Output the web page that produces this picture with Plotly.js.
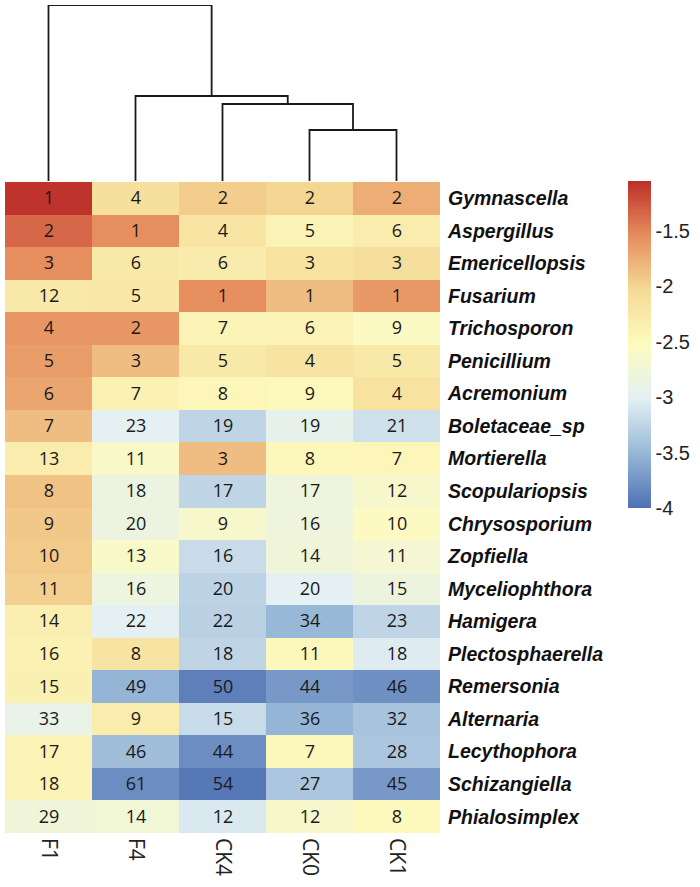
<!DOCTYPE html>
<html><head><meta charset="utf-8">
<script src="https://cdn.plot.ly/plotly-3.0.1.min.js"></script>
<style>body{margin:0;background:#fff}#chart{width:700px;height:887px}</style>
</head><body><div id="chart"></div>
<script>
// Samples (columns, in dendrogram order)
const samples = ["F1", "F4", "CK4", "CK0", "CK1"];
// Genera (rows, top to bottom)
const genera = ["Gymnascella","Aspergillus","Emericellopsis","Fusarium","Trichosporon","Penicillium",
  "Acremonium","Boletaceae_sp","Mortierella","Scopulariopsis","Chrysosporium","Zopfiella",
  "Myceliophthora","Hamigera","Plectosphaerella","Remersonia","Alternaria","Lecythophora",
  "Schizangiella","Phialosimplex"];
// log10 relative abundance (colour)
const values = [
  [-1.07, -2.12, -1.95, -2.00, -1.75],
  [-1.35, -1.55, -2.20, -2.40, -2.30],
  [-1.55, -2.25, -2.28, -2.15, -2.10],
  [-2.25, -2.22, -1.55, -1.85, -1.62],
  [-1.60, -1.60, -2.42, -2.40, -2.55],
  [-1.65, -1.85, -2.25, -2.18, -2.25],
  [-1.70, -2.38, -2.45, -2.50, -2.15],
  [-1.85, -3.00, -3.25, -2.95, -3.15],
  [-2.30, -2.60, -1.85, -2.48, -2.45],
  [-1.88, -2.85, -3.25, -2.80, -2.65],
  [-1.92, -2.85, -2.65, -2.80, -2.55],
  [-1.93, -2.62, -3.20, -2.78, -2.70],
  [-1.97, -2.83, -3.27, -3.00, -2.82],
  [-2.35, -3.00, -3.28, -3.50, -3.25],
  [-2.38, -2.18, -3.25, -2.48, -3.05],
  [-2.36, -3.52, -3.90, -3.72, -3.78],
  [-2.90, -2.30, -3.20, -3.52, -3.40],
  [-2.40, -3.45, -3.80, -2.48, -3.38],
  [-2.40, -3.80, -3.95, -3.38, -3.72],
  [-2.78, -2.75, -3.08, -2.65, -2.50]
];
// Rank numbers printed in the cells
const ranks = [
  [1, 4, 2, 2, 2],
  [2, 1, 4, 5, 6],
  [3, 6, 6, 3, 3],
  [12, 5, 1, 1, 1],
  [4, 2, 7, 6, 9],
  [5, 3, 5, 4, 5],
  [6, 7, 8, 9, 4],
  [7, 23, 19, 19, 21],
  [13, 11, 3, 8, 7],
  [8, 18, 17, 17, 12],
  [9, 20, 9, 16, 10],
  [10, 13, 16, 14, 11],
  [11, 16, 20, 20, 15],
  [14, 22, 22, 34, 23],
  [16, 8, 18, 11, 18],
  [15, 49, 50, 44, 46],
  [33, 9, 15, 36, 32],
  [17, 46, 44, 7, 28],
  [18, 61, 54, 27, 45],
  [29, 14, 12, 12, 8]
];
const colorTickVals = [-4, -3.5, -3, -2.5, -2, -1.5];
const colorTickText = ["-4", "-3.5", "-3", "-2.5", "-2", "-1.5"];
// Column dendrogram merges: [left child, right child, height]
const dendroMerges = [
  ["CK0", "CK1", 51],
  ["CK4", "m0", 77],
  ["F4", "m1", 85],
  ["F1", "m2", 176]
];

// build dendrogram segments
const idx = samples.map((_, i) => i);
const nodePos = {};
samples.forEach((s, i) => nodePos[s] = {x: i, h: 0});
const dx = [], dy = [];
dendroMerges.forEach((m, k) => {
  const a = nodePos[m[0]], b = nodePos[m[1]], h = m[2];
  dx.push(a.x, a.x, b.x, b.x, null);
  dy.push(a.h, h, h, b.h, null);
  nodePos["m" + k] = {x: (a.x + b.x) / 2, h: h};
});

const W = 700, H = 887;
const mL = 5, mR = 5, mT = 5, mB = 54;
const pw = W - mL - mR, ph = H - mT - mB;
const heatTop = 182, heatRight = 440;
const yHeatTop = (H - mB - heatTop) / ph;

const colorscale = [
  [0, "#4F71B3"],
  [1/6, "#97B7D7"],
  [2/6, "#E3F0F3"],
  [3/6, "#FDFBBF"],
  [4/6, "#F5DA96"],
  [5/6, "#E68D5D"],
  [1, "#BC2F29"]
];

const heat = {
  type: "heatmap",
  x: idx, y: genera, z: values,
  text: ranks, texttemplate: "%{text}",
  textfont: {family: "Open Sans, sans-serif", size: 18, color: "#1a1a1a"},
  colorscale: colorscale, zmin: -4, zmax: -1.05,
  xaxis: "x", yaxis: "y",
  hoverinfo: "skip",
  colorbar: {
    x: (628 - mL) / pw, xanchor: "left",
    y: (H - mB - 181) / ph, yanchor: "top",
    len: (508 - 181) / ph, lenmode: "fraction",
    thickness: 23, thicknessmode: "pixels",
    outlinewidth: 0, xpad: 0, ypad: 0,
    tickvals: colorTickVals, ticktext: colorTickText,
    ticks: "", ticklabelstandoff: 9,
    tickfont: {family: "Liberation Sans, Arial, sans-serif", size: 20, color: "#222"}
  }
};

const dendro = {
  type: "scatter", mode: "lines",
  x: dx, y: dy, xaxis: "x", yaxis: "y2",
  line: {color: "#1a1a1a", width: 1.8},
  cliponaxis: false, hoverinfo: "skip", showlegend: false
};

const layout = {
  width: W, height: H,
  margin: {l: mL, r: mR, t: mT, b: mB},
  paper_bgcolor: "#fff", plot_bgcolor: "#fff",
  showlegend: false,
  xaxis: {
    domain: [0, (heatRight - mL) / pw], range: [-0.5, 4.5],
    tickvals: idx, ticktext: samples, tickangle: 90,
    showgrid: false, zeroline: false, showline: false, ticks: "",
    ticklabelstandoff: 4,
    tickfont: {family: "Open Sans, sans-serif", size: 21, color: "#222"},
    anchor: "y"
  },
  yaxis: {
    domain: [0, yHeatTop], autorange: "reversed", type: "category",
    side: "right", showgrid: false, zeroline: false, showline: false, ticks: "",
    ticklabelstandoff: 7,
    tickfont: {family: "Liberation Sans, Arial, sans-serif", size: 19.5, color: "#111", weight: "bold", style: "italic"},
    anchor: "x"
  },
  yaxis2: {
    domain: [(H - mB - 181) / ph, 1], range: [0, 176],
    visible: false, anchor: "x"
  }
};

Plotly.newPlot("chart", [heat, dendro], layout, {displayModeBar: false, staticPlot: true});
</script>
</body></html>
